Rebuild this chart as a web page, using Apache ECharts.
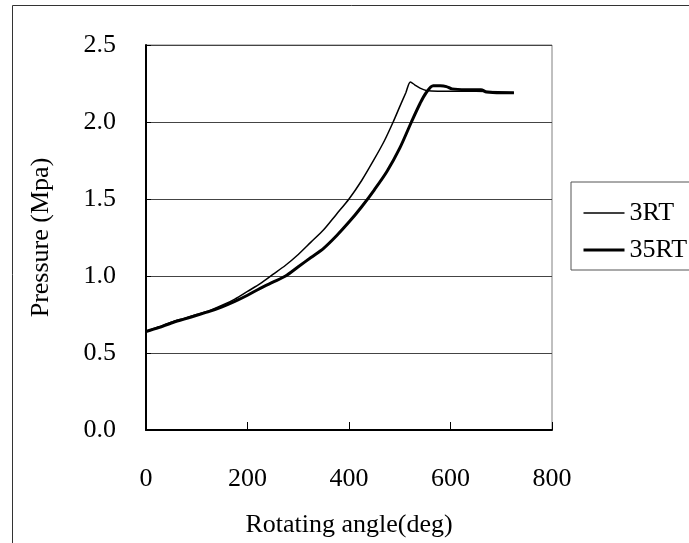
<!DOCTYPE html>
<html>
<head>
<meta charset="utf-8">
<script src="https://cdn.jsdelivr.net/npm/echarts@6/dist/echarts.min.js"></script>
<style>
html,body{margin:0;padding:0;background:#fff;}
#chart{width:689px;height:543px;}
</style>
</head>
<body>
<div id="chart"></div>
<script>
const xTicks = [0, 200, 400, 600, 800];
const yTicks = [0.0, 0.5, 1.0, 1.5, 2.0, 2.5];

const angles3RT = [0, 25, 50, 75, 100, 125, 150, 175, 200, 225, 250, 275, 300, 325, 350, 375, 400, 425, 450, 470, 487, 500, 512, 521, 530, 540, 552, 575, 600, 650, 700, 725];
const pressure3RT = [0.64, 0.67, 0.70, 0.725, 0.75, 0.775, 0.81, 0.85, 0.90, 0.95, 1.01, 1.07, 1.14, 1.22, 1.30, 1.40, 1.50, 1.62, 1.76, 1.88, 2.0, 2.10, 2.19, 2.26, 2.24, 2.22, 2.205, 2.20, 2.20, 2.20, 2.195, 2.19];

const angles35RT = [0, 25, 50, 75, 100, 125, 150, 175, 200, 225, 250, 275, 300, 325, 350, 375, 400, 425, 450, 475, 500, 523, 540, 552, 566, 580, 592, 603, 630, 660, 671, 700, 725];
const pressure35RT = [0.64, 0.665, 0.695, 0.72, 0.745, 0.77, 0.80, 0.835, 0.875, 0.92, 0.96, 1.0, 1.06, 1.12, 1.18, 1.26, 1.35, 1.45, 1.56, 1.68, 1.83, 2.0, 2.12, 2.19, 2.235, 2.235, 2.23, 2.215, 2.21, 2.21, 2.195, 2.19, 2.19];

const seriesNames = ['3RT', '35RT'];
const lineWidths = [1.5, 3];

const FONT = 'Liberation Serif';
const chart = echarts.init(document.getElementById('chart'), null, {renderer: 'canvas'});
const pairs = (xs, ys) => xs.map((x, i) => [x, ys[i]]);

chart.setOption({
  animation: false,
  backgroundColor: '#fff',
  textStyle: {fontFamily: FONT, color: '#000'},
  graphic: [{
    type: 'rect', left: 10, top: 3,
    shape: {width: 720, height: 600},
    style: {fill: 'none', stroke: '#333', lineWidth: 1}
  }],
  grid: {left: 146, right: 137, top: 45, bottom: 112, show: true, borderColor: '#808080', borderWidth: 1, backgroundColor: 'transparent'},
  legend: {
    orient: 'vertical', left: 571, top: 182,
    padding: [18, 40, 7, 11],
    itemGap: 11, itemWidth: 41, itemHeight: 26,
    borderColor: '#555', borderWidth: 1,
    itemStyle: {opacity: 0},
    textStyle: {fontFamily: FONT, fontSize: 26, color: '#000'},
    data: seriesNames.map((n, i) => ({name: n, lineStyle: {width: lineWidths[i], color: '#000'}}))
  },
  xAxis: {
    type: 'value', min: xTicks[0], max: xTicks[xTicks.length - 1], interval: 200,
    name: 'Rotating angle(deg)', nameLocation: 'middle', nameGap: 82,
    nameTextStyle: {fontFamily: FONT, fontSize: 26, color: '#000'},
    axisLine: {show: true, lineStyle: {color: '#000', width: 2}},
    axisTick: {show: true, inside: true, length: 8, lineStyle: {color: '#000', width: 1}},
    axisLabel: {fontFamily: FONT, fontSize: 26, color: '#000', margin: 36},
    splitLine: {show: false}
  },
  yAxis: {
    type: 'value', min: yTicks[0], max: yTicks[yTicks.length - 1], interval: 0.5,
    name: 'Pressure (Mpa)', nameLocation: 'middle', nameGap: 92, nameRotate: 90,
    nameTextStyle: {fontFamily: FONT, fontSize: 26, color: '#000'},
    axisLine: {show: true, lineStyle: {color: '#000', width: 2}},
    axisTick: {show: true, inside: true, length: 5, lineStyle: {color: '#000', width: 1}},
    axisLabel: {fontFamily: FONT, fontSize: 26, color: '#000', margin: 30, formatter: v => v.toFixed(1)},
    splitLine: {show: true, lineStyle: {color: '#444', width: 1}}
  },
  series: [
    {name: seriesNames[0], type: 'line', data: pairs(angles3RT, pressure3RT), showSymbol: false, symbol: 'none', smooth: 0.3,
     lineStyle: {color: '#000', width: lineWidths[0]}, itemStyle: {color: '#000'}},
    {name: seriesNames[1], type: 'line', data: pairs(angles35RT, pressure35RT), showSymbol: false, symbol: 'none', smooth: 0.3,
     lineStyle: {color: '#000', width: lineWidths[1]}, itemStyle: {color: '#000'}}
  ]
});
</script>
</body>
</html>
